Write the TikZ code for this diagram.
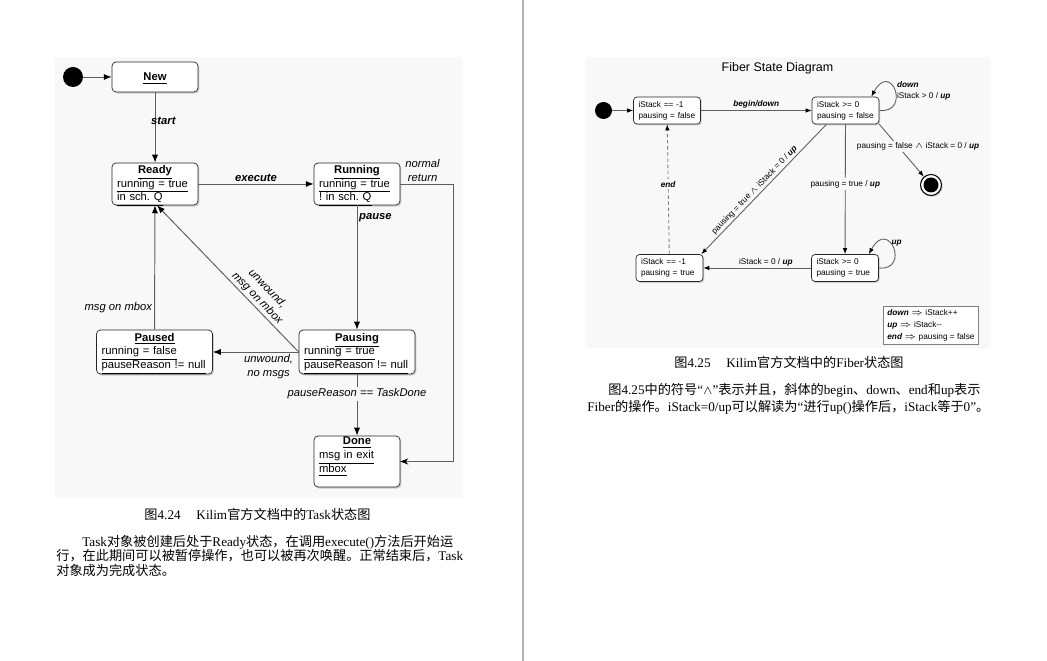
\documentclass[tikz,border=0pt]{standalone}
\usepackage{fontspec}
\setmainfont{Liberation Serif}
\newfontfamily\dgfont{Liberation Sans}
\newfontfamily\zh{Noto Sans CJK SC}
\usetikzlibrary{arrows.meta,shadows}
\definecolor{panel}{RGB}{248,248,248}
\definecolor{edgegray}{RGB}{95,95,95}
\frenchspacing
\newcommand{\uln}[1]{\smash{\underline{#1}}\vphantom{#1}}
\newcommand{\ttl}[1]{\hfill\textbf{\uln{#1}}\hfill\null}
\newcommand{\op}[1]{\textbf{\textit{#1}}}
\begin{document}
\begin{tikzpicture}[x=0.02cm,y=-0.02cm,
  tfont/.style={font=\dgfont\fontsize{6.4}{7.9}\selectfont},
  ffont/.style={font=\dgfont\fontsize{4.7}{6.2}\selectfont},
  body/.style={font=\fontsize{7.5}{9}\selectfont,inner sep=0pt},
  tstate/.style n args={2}{tfont,draw=black!85,fill=white,rounded corners=2.3pt,
    drop shadow={opacity=0.35,shadow xshift=0.8pt,shadow yshift=-0.9pt},
    align=left,inner xsep=0.1cm,inner ysep=0pt,text width=#1,minimum height=#2},
  fstate/.style={ffont,draw=black!85,fill=white,rounded corners=2pt,
    drop shadow={opacity=0.35,shadow xshift=0.7pt,shadow yshift=-0.8pt},
    align=left,inner xsep=0.1cm,inner ysep=0pt,text width=1.14cm,minimum height=0.54cm},
  tlbl/.style={tfont,inner sep=1pt},
  flbl/.style={ffont,inner sep=1pt},
  tarrow/.style={draw=edgegray,line width=0.55pt,-{Latex[length=4.5pt,width=3.5pt,color=black]}},
  farrow/.style={draw=edgegray,line width=0.5pt,-{Latex[length=3.4pt,width=2.6pt,color=black]}}]
\useasboundingbox (0,0) rectangle (1047,661);
\fill[panel] (55,57) rectangle (462,498);
\fill[panel] (586,57) rectangle (990,348);
\draw[black!30,line width=0.8pt] (523,0) -- (523,661);

\node[circle,fill=black,inner sep=0pt,minimum size=0.4cm] (tinit) at (73,77) {};
\node[tstate={1.52cm}{0.6cm}] (new) at (155,77) {\ttl{New}};
\node[tstate={1.52cm}{0.84cm}] (ready) at (155,184) {\ttl{Ready}\\\uln{running = true}\\\uln{in sch. Q}};
\node[tstate={1.52cm}{0.84cm}] (running) at (357,184) {\ttl{Running}\\\uln{running = true}\\\uln{! in sch. Q}};
\node[tstate={2.12cm}{0.88cm}] (paused) at (154.5,352) {\ttl{Paused}\\\uln{running = false}\\\uln{pauseReason != null}};
\node[tstate={2.12cm}{0.88cm}] (pausing) at (357,352) {\ttl{Pausing}\\\uln{running = true}\\\uln{pauseReason != null}};
\node[tstate={1.52cm}{1.02cm}] (done) at (357,461.5) {\ttl{Done}\\\uln{msg in exit}\\\uln{mbox}\\\mbox{}};

\draw[tarrow] (tinit) -- (new);
\draw[tarrow] (new) -- node[tlbl,pos=0.4,anchor=west,xshift=-0.12cm] {\op{start}} (ready);
\draw[tarrow] (ready) -- node[tlbl,above] {\op{execute}} (running);
\draw[tarrow] (running) -- node[tlbl,pos=0.1,right] {\op{pause}} (pausing);
\draw[tarrow] (paused) -- node[tlbl,pos=0.18,left] {\textit{msg on mbox}} (ready);
\draw[tarrow] (pausing) -- node[tlbl,pos=0.35,below,align=center] {\textit{unwound,}\\\textit{no msgs}} (paused);
\draw[tarrow] (pausing.west) -- node[tlbl,pos=0.33,sloped,above,align=center] {\textit{unwound,}\\\textit{msg on mbox}} ([xshift=0.04cm]ready.south);
\draw[tarrow] (pausing) -- node[tlbl,pos=0.32,fill=panel] {\textit{pauseReason == TaskDone}} (done);
\draw[tarrow,-{Stealth[length=4.5pt,width=3.5pt,color=black]}] (running.east) -- node[tlbl,pos=0.42,above,align=center] {\textit{normal}\\\textit{return}} ++(53,0) |- (done.east);

\node[font=\dgfont\fontsize{7.1}{8}\selectfont] (ftitle) at (777.5,68) {Fiber State Diagram};
\node[circle,fill=black,inner sep=0pt,minimum size=0.34cm] (finit) at (603.5,110.5) {};
\node[fstate] (afalse) at (667,110.5) {iStack == -1\\pausing = false};
\node[fstate] (bfalse) at (845.5,110.5) {iStack >= 0\\pausing = false};
\node[fstate] (ctrue) at (669.5,268) {iStack == -1\\pausing = true};
\node[fstate] (dtrue) at (845,268) {iStack >= 0\\pausing = true};
\node[circle,draw=black,fill=white,line width=0.6pt,inner sep=0pt,minimum size=0.42cm,
  drop shadow={opacity=0.35,shadow xshift=0.7pt,shadow yshift=-0.8pt}] (fend) at (931,185) {};
\fill (fend.center) circle[radius=0.15cm];
\node[font=\dgfont\fontsize{4.7}{6.8}\selectfont,draw=black!50,fill=white,align=left,anchor=north west,
  inner xsep=0.08cm,inner ysep=0.05cm,minimum width=1.9cm,minimum height=0.76cm] (legend) at (883,306)
  {\op{down} $\Rightarrow$ iStack++\\\op{up} $\Rightarrow$ iStack-{}-\\\op{end} $\Rightarrow$ pausing = false};

\draw[farrow] (finit) -- (afalse);
\draw[farrow] (afalse) -- node[flbl,above] {\op{begin/down}} (bfalse);
\draw[farrow] (bfalse.east) .. controls +(32,3) and +(20,-37) .. ([xshift=-0.16cm]bfalse.north east)
  node[flbl,pos=0.5,right,align=left] {\op{down}\\iStack > 0 / \op{up}};
\draw[farrow] (bfalse.south east) -- (fend)
  node[flbl,pos=0.42,fill=panel,xshift=0.4cm] {pausing = false $\wedge$ iStack = 0 / \op{up}};
\draw[farrow] (bfalse) -- node[flbl,pos=0.46,fill=panel] {pausing = true / \op{up}} (dtrue);
\draw[farrow] ([xshift=-0.38cm]bfalse.south) -- node[flbl,pos=0.54,sloped,above] {pausing = true $\wedge$ iStack = 0 / \op{up}} ([xshift=-0.04cm]ctrue.north east);
\draw[farrow] (dtrue.east) .. controls +(32,3) and +(20,-37) .. ([xshift=-0.2cm]dtrue.north east)
  node[flbl,pos=0.62,right] {\op{up}};
\draw[farrow] (dtrue) -- node[flbl,pos=0.42,above] {iStack = 0 / \op{up}} (ctrue);
\draw[farrow,draw=gray,dash pattern=on 2pt off 1.5pt] (ctrue) -- node[flbl,pos=0.54,fill=panel] {\op{end}} (afalse);

\node[body] (tcap) at (257.5,514) {{\zh 图}4.24\hspace{1.2em}Kilim{\zh 官方文档中的}Task{\zh 状态图}};
\node[body,anchor=west] (tline1) at (82,542) {Task{\zh 对象被创建后处于}Ready{\zh 状态，在调用}execute(){\zh 方法后开始运}};
\node[body,anchor=west] (tline2) at (56,556) {{\zh 行，在此期间可以被暂停操作，也可以被再次唤醒。正常结束后，}Task};
\node[body,anchor=west] (tline3) at (56,570) {{\zh 对象成为完成状态。}};

\node[body] (fcap) at (789,362) {{\zh 图}4.25\hspace{1.2em}Kilim{\zh 官方文档中的}Fiber{\zh 状态图}};
\node[body,anchor=west] (fline1) at (608,390) {{\zh 图}4.25{\zh 中的符号}“$\wedge$”{\zh 表示并且，斜体的}begin{\zh 、}down{\zh 、}end{\zh 和}up{\zh 表示}};
\node[body,anchor=west] (fline2) at (587,407) {Fiber{\zh 的操作。}iStack=0/up{\zh 可以解读为}“{\zh 进行}up(){\zh 操作后，}iStack{\zh 等于}0”{\zh 。}};
\end{tikzpicture}
\end{document}
